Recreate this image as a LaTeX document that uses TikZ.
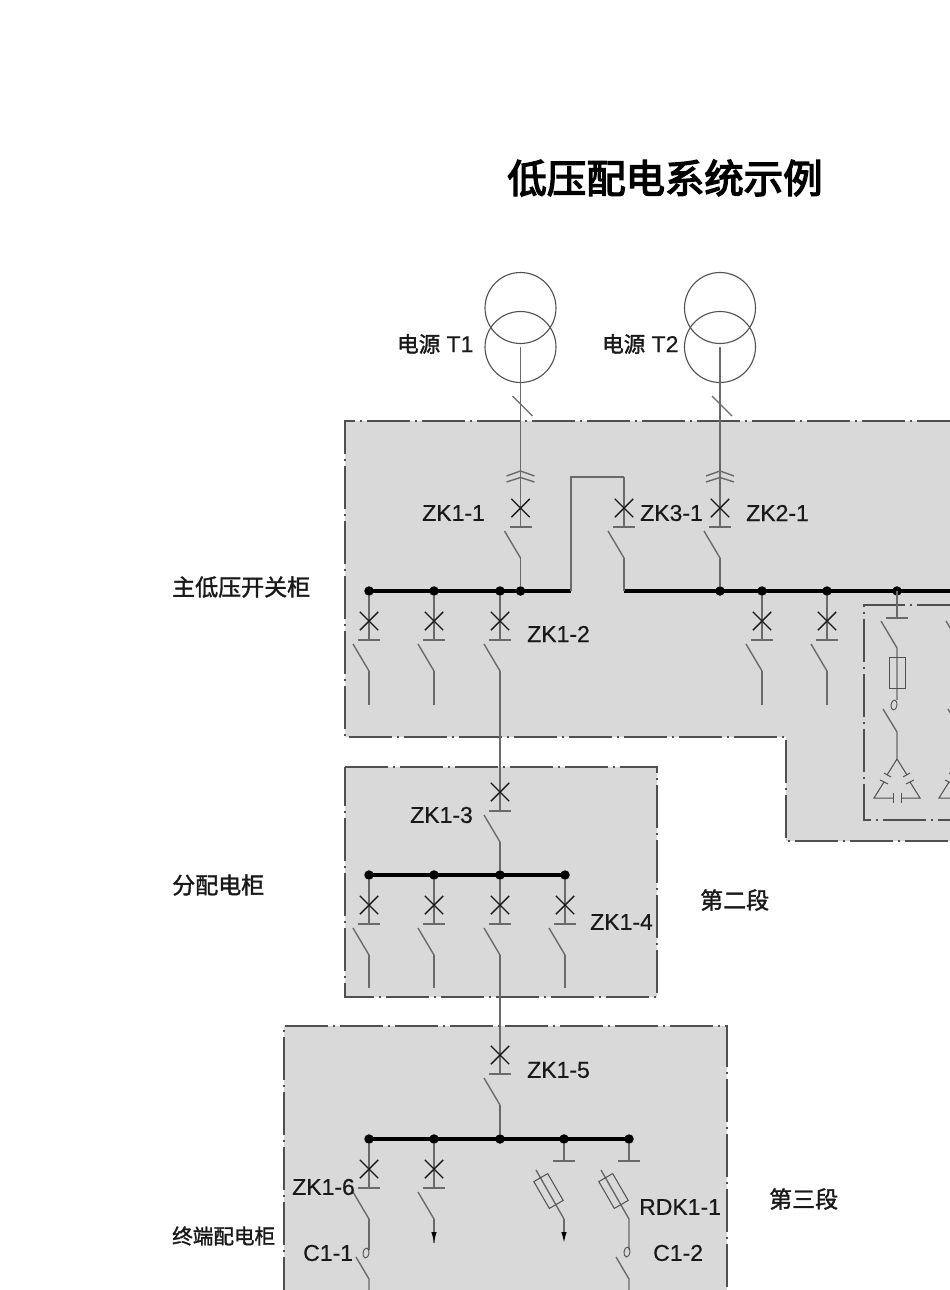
\documentclass[tikz,border=0pt]{standalone}
\usepackage{fontspec}
\setmainfont[FakeBold=0.5]{Liberation Sans}
\newfontfamily\cjk[FakeBold=1.5]{Noto Sans CJK SC}
\newfontfamily\cjktitle[FakeBold=3.5]{Noto Sans CJK SC}
\usetikzlibrary{shapes.misc,shapes.geometric,arrows.meta}
\definecolor{panel}{HTML}{D9D9D9}
\definecolor{wirec}{HTML}{6A6A6A}
\definecolor{edgec}{HTML}{505050}
\tikzset{
  wire/.style={draw=wirec,line width=1.4pt},
  thinw/.style={draw=edgec,line width=1pt},
  bus/.style={draw=black,line width=4pt},
  dot/.style={circle,fill=black,minimum size=9.5pt,inner sep=0pt},
  xmark/.style={cross out,draw=black!90,line width=1.4pt,minimum width=17pt,minimum height=17pt,inner sep=0pt},
  border/.style={draw=edgec,line width=1.05pt,dash pattern=on 43pt off 5pt on 2pt off 5pt},
  trafo/.style={circle,draw=edgec,line width=1.1pt,minimum size=71pt,inner sep=0pt},
  fuse/.style={rectangle,draw=edgec,line width=1pt,minimum width=#1,inner sep=0pt},
  coil/.style={ellipse,draw=edgec,line width=0.9pt,minimum width=6pt,minimum height=10pt,inner sep=0pt,rotate=-8},
  lab/.style={anchor=west,inner sep=0pt,font=\fontsize{23}{25}\selectfont,text=black!90},
  cn/.style={anchor=west,inner sep=0pt,font=\cjk\fontsize{23}{25}\selectfont,text=black!90},
  arroww/.style={wire,-{Latex[length=11pt,width=5.5pt,color=black]}},
}
% name, x, y of cross, upper end, lower end
\newcommand\bk[5]{%
  \coordinate (#1bar) at (#2,#3+19);
  \coordinate (#1hinge) at (#2,#3+50);
  \coordinate (#1open) at (#2-16,#3+23);
  \draw[wire] (#4) -- (#1bar);
  \node[xmark] (#1x) at (#2,#3) {};
  \draw[wire] (#2-11,#3+19) -- (#2+11,#3+19);
  \draw[wire] (#1open) -- (#1hinge);
  \draw[wire] (#1hinge) -- (#5);
}
% capacitor triangle: x, apex y is 759
\newcommand\captri[1]{%
  \draw[thinw] (#1,759) -- (#1-10,775);
  \draw[thinw] (#1-13,773) -- (#1-6,777);
  \draw[thinw] (#1-17,780) -- (#1-9,784);
  \draw[thinw] (#1-13,782) -- (#1-23,798) -- (#1-4,798);
  \draw[thinw] (#1-4,793) -- (#1-4,803);
  \draw[thinw] (#1+4,793) -- (#1+4,803);
  \draw[thinw] (#1+4,798) -- (#1+23,798) -- (#1+13,782);
  \draw[thinw] (#1+9,784) -- (#1+17,780);
  \draw[thinw] (#1+6,777) -- (#1+13,773);
  \draw[thinw] (#1+10,775) -- (#1,759);
}
% ring unit with fuse, x
\newcommand\fuseunit[2]{%
  \coordinate (#1bar) at (#2,618);
  \coordinate (#1h) at (#2,648);
  \coordinate (#1o) at (#2-16,621);
  \coordinate (#1e) at (#2,700);
  \coordinate (#1hb) at (#2,732);
  \coordinate (#1ob) at (#2-14,709);
  \coordinate (#1ap) at (#2,759);
  \draw[wire] (#1top) -- (#1bar);
  \draw[wire] (#2-11,618) -- (#2+11,618);
  \draw[wire] (#1o) -- (#1h) -- (#1e);
  \node[fuse=16pt,minimum height=31pt] (#1f) at (#2,672.5) {};
  \node[coil] (#1c) at (#2-3,705) {};
  \draw[wire] (#1ob) -- (#1hb) -- (#1ap);
  \captri{#2}
}
\begin{document}
\begin{tikzpicture}[x=1pt,y=-1pt]
\path[use as bounding box,clip] (0,0) rectangle (950,1290);
\fill[white] (0,0) rectangle (950,1290);
% panels
\fill[panel] (960,421) -- (345,421) -- (345,737) -- (786,737) -- (786,841) -- (960,841) -- cycle;
\fill[panel] (345,767) rectangle (657,997);
\fill[panel] (284,1026) rectangle (727,1300);
\draw[border] (960,421) -- (345,421) -- (345,737) -- (786,737) -- (786,841) -- (960,841);
\draw[border] (345,767) -- (657,767) -- (657,997) -- (345,997) -- cycle;
\draw[border] (284,1300) -- (284,1026) -- (727,1026) -- (727,1300);
\draw[border] (960,605) -- (864,605) -- (864,820) -- (960,820);
% title
\node[inner sep=0pt,font=\cjktitle\fontsize{39.4}{41}\selectfont] (title) at (665,178) {低压配电系统示例};
% transformers
\node[trafo] (t1a) at (520.5,308) {};
\node[trafo] (t1b) at (520.5,347) {};
\node[trafo] (t2a) at (720,308) {};
\node[trafo] (t2b) at (720,347) {};
% bus dots
\foreach \n/\x/\y in {a1/369/591,a2/434/591,a3/500/591,a4/520.5/591,b1/720/591,b2/762/591,b3/827/591,b4/897/591,
  c1/369/875,c2/434/875,c3/500/875,c4/565/875,
  d1/369/1139,d2/434/1139,d3/500/1139,d4/564/1139,d5/629/1139}
  \node[dot] (\n) at (\x,\y) {};
\coordinate (loopL) at (571,591);
\coordinate (loopR) at (624,591);
\coordinate (busEnd) at (960,591);
\coordinate (loopTL) at (571,477);
\coordinate (loopTR) at (624,477);
\draw[bus] (a1.center) -- (loopL);
\draw[bus] (loopR) -- (busEnd);
\draw[bus] (c1.center) -- (c4.center);
\draw[bus] (d1.center) -- (d5.center);
\draw[wire] (loopL) -- (loopTL) -- (loopTR);
% incoming
\bk{q1}{520.5}{508}{t1b.center}{a4}
\bk{q3}{624}{508}{loopTR}{loopR}
\bk{q2}{720}{508}{t2b.center}{b1}
\foreach \x in {520.5,720}{
  \draw[wire] (\x-8,396) -- (\x+12,416);
  \draw[wire] (\x-14,476) -- (\x,471) -- (\x+14,476);
  \draw[wire] (\x-14,482) -- (\x,477.5) -- (\x+14,482);
}
% feeders of main panel
\coordinate (e1) at (369,705);
\coordinate (e2) at (434,705);
\coordinate (e3) at (762,705);
\coordinate (e4) at (827,705);
\coordinate (q13bar) at (500,810);
\bk{f1}{369}{621}{a1}{e1}
\bk{f2}{434}{621}{a2}{e2}
\bk{f3}{500}{621}{a3}{q13bar}
\bk{f4}{762}{621}{b2}{e3}
\bk{f5}{827}{621}{b3}{e4}
% ring units
\coordinate (r1top) at (b4);
\fuseunit{r1}{897}
\coordinate (r2top) at (962,591);
\fuseunit{r2}{962}
% distribution panel
\bk{q13}{500}{792}{q13bar}{c3}
\coordinate (g1) at (369,988);
\coordinate (g2) at (434,988);
\coordinate (g4) at (565,988);
\coordinate (q15bar) at (500,1074);
\bk{g1u}{369}{905}{c1}{g1}
\bk{g2u}{434}{905}{c2}{g2}
\bk{g3u}{500}{905}{c3}{q15bar}
\bk{g4u}{565}{905}{c4}{g4}
% terminal panel
\bk{q15}{500}{1055}{q15bar}{d3}
\coordinate (h1) at (369,1250);
\coordinate (h2) at (434,1243);
\bk{h1u}{369}{1169}{d1}{h1}
\bk{h2u}{434}{1169}{d2}{h2}
\draw[arroww] (434,1220) -- (h2);
% fuse switches
\coordinate (k4bar) at (564,1161);
\coordinate (k5bar) at (629,1161);
\coordinate (k4o) at (536,1170);
\coordinate (k4h) at (564,1219);
\coordinate (k4e) at (564,1243);
\coordinate (k5o) at (601,1170);
\coordinate (k5h) at (629,1219);
\coordinate (k5e) at (629,1250);
\draw[wire] (d4) -- (k4bar);
\draw[wire] (553,1161) -- (575,1161);
\draw[wire] (d5) -- (k5bar);
\draw[wire] (618,1161) -- (640,1161);
\draw[wire] (k4o) -- (k4h);
\draw[arroww] (k4h) -- (k4e);
\draw[wire] (k5o) -- (k5h) -- (k5e);
\node[fuse=31pt,minimum height=16pt,rotate=-60] (k4f) at (548.5,1191) {};
\node[fuse=31pt,minimum height=16pt,rotate=-60] (k5f) at (613.5,1191) {};
% contactors
\node[coil] (cc1) at (366,1253) {};
\node[coil] (cc2) at (627,1252) {};
\coordinate (m1o) at (356,1257);
\coordinate (m1h) at (369,1279);
\coordinate (m1e) at (369,1295);
\coordinate (m2o) at (616,1257);
\coordinate (m2h) at (629,1279);
\coordinate (m2e) at (629,1295);
\draw[wire] (m1o) -- (m1h) -- (m1e);
\draw[wire] (m2o) -- (m2h) -- (m2e);
% labels
\node[lab] (l1) at (397,344) {{\cjk\fontsize{21.5}{24}\selectfont 电源} T1};
\node[lab] (l2) at (602,344) {{\cjk\fontsize{21.5}{24}\selectfont 电源} T2};
\node[lab] (z11) at (422,513) {ZK1-1};
\node[lab] (z31) at (640,513) {ZK3-1};
\node[lab] (z21) at (746,513) {ZK2-1};
\node[lab] (z12) at (527,634) {ZK1-2};
\node[lab] (z13) at (410,815) {ZK1-3};
\node[lab] (z14) at (590,922) {ZK1-4};
\node[lab] (z15) at (527,1070) {ZK1-5};
\node[lab] (z16) at (292,1187) {ZK1-6};
\node[lab] (rdk) at (639,1207) {RDK1-1};
\node[lab] (c11) at (303,1253) {C1-1};
\node[lab] (c12) at (653,1253) {C1-2};
\node[cn] (p1) at (172,587) {主低压开关柜};
\node[cn] (p2) at (172,885) {分配电柜};
\node[cn,font=\cjk\fontsize{20.6}{23}\selectfont] (p3) at (172,1236) {终端配电柜};
\node[cn] (s2) at (700,900) {第二段};
\node[cn] (s3) at (769,1199) {第三段};
\end{tikzpicture}
\end{document}
